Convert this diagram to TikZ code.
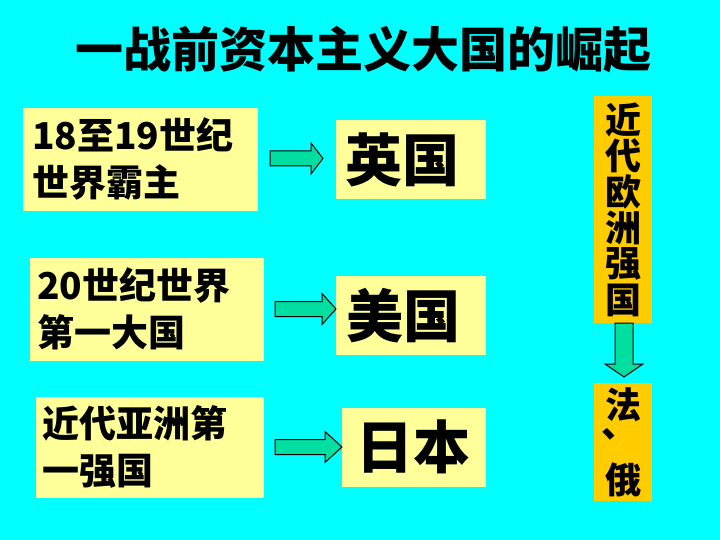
\documentclass[tikz,border=0pt]{standalone}
\usepackage{fontspec}
\setmainfont{Noto Sans CJK SC}
\definecolor{bgc}{RGB}{0,255,255}
\definecolor{paleyel}{RGB}{255,255,153}
\definecolor{orng}{RGB}{255,204,0}
\definecolor{arrg}{RGB}{0,222,160}
\tikzset{
  leftbox/.style={fill=paleyel, draw=none, anchor=north west, inner sep=0pt},
  rightbox/.style={fill=paleyel, draw=none, anchor=north west, inner sep=0pt},
  colbox/.style={fill=orng, draw=none, anchor=north west, inner sep=0pt},
  lefttxt/.style={anchor=west, align=left, inner sep=0pt, font=\fontsize{37}{47}\selectfont\bfseries},
  bigtxt/.style={inner sep=0pt, font=\fontsize{57}{60}\selectfont\bfseries},
  coltxt/.style={inner sep=0pt, font=\fontsize{36}{36}\selectfont\bfseries},
  blockarr/.style={fill=arrg, draw=black, line width=1pt, line join=miter},
}
\newcommand\harrowshape[4]{%
  \draw[blockarr] (#1,#4-7.5) -- (#2,#4-7.5) -- (#2,#4-15.5) -- (#3,#4) -- (#2,#4+15.5) -- (#2,#4+7.5) -- (#1,#4+7.5) -- cycle;}
\begin{document}
\begin{tikzpicture}[x=1pt,y=-1pt]
\fill[bgc] (0,0) rectangle (720,540);
\useasboundingbox (0,0) rectangle (720,540);
% title
\node[inner sep=0pt, font=\fontsize{48}{50}\selectfont\bfseries] (title) at (363,50) {一战前资本主义大国的崛起};
% left boxes
\node[leftbox, minimum width=235pt, minimum height=103pt] (b1) at (23,108) {};
\node[lefttxt] (t1) at (32,159) {18至19世纪\\世界霸主};
\node[leftbox, minimum width=234pt, minimum height=103pt] (b2) at (30,258) {};
\node[lefttxt] (t2) at (37,309) {20世纪世界\\第一大国};
\node[leftbox, minimum width=228pt, minimum height=101pt] (b3) at (36,397) {};
\node[lefttxt] (t3) at (42,447) {近代亚洲第\\一强国};
% right boxes
\node[rightbox, minimum width=150pt, minimum height=79pt] (r1) at (336,120) {};
\node[bigtxt] (rt1) at (402,160) {英国};
\node[rightbox, minimum width=150pt, minimum height=79pt] (r2) at (336,276) {};
\node[bigtxt] (rt2) at (403,316) {美国};
\node[rightbox, minimum width=144pt, minimum height=79pt] (r3) at (342,408) {};
\node[bigtxt] (rt3) at (413,447) {日本};
% arrows
\harrowshape{270}{311}{323}{158.5}
\harrowshape{275}{322}{336}{309}
\harrowshape{275}{325}{342}{447}
% right column
\node[colbox, minimum width=58pt, minimum height=227pt] (c1) at (594,96) {};
\node[coltxt] (ct1) at (623,120) {近};
\node[coltxt] (ct2) at (623,156) {代};
\node[coltxt] (ct3) at (623,192) {欧};
\node[coltxt] (ct4) at (623,228) {洲};
\node[coltxt] (ct5) at (623,264) {强};
\node[coltxt] (ct6) at (623,300) {国};
\draw[blockarr] (615,323) -- (633,323) -- (633,364) -- (643,364) -- (624,377) -- (605,364) -- (615,364) -- cycle;
\node[colbox, minimum width=58pt, minimum height=118pt] (c2) at (594,383) {};
\node[coltxt] (ct7) at (623,405) {法};
\node[coltxt, anchor=center] (ct8) at (619,434) {、};
\node[coltxt] (ct9) at (623,480) {俄};
\end{tikzpicture}
\end{document}
